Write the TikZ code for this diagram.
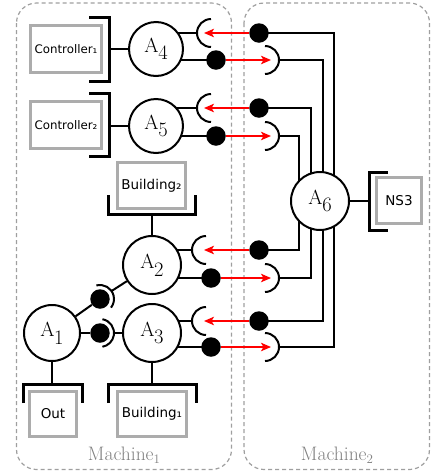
\documentclass[tikz,border=0pt]{standalone}
\usepackage{fontspec}
\newfontfamily\dv{DejaVu Sans}
\usetikzlibrary{arrows.meta,backgrounds,calc}
\newcommand\alab[1]{{\fontsize{20.5}{21}\selectfont A\kern-0.3pt\raisebox{-7.5pt}{#1}}}
\begin{document}
\begin{tikzpicture}[x=1pt,y=-1pt,
  agent/.style={circle,draw,line width=2pt,fill=white,inner sep=0pt},
  ball/.style={circle,fill=black,inner sep=0pt,minimum size=19.5pt},
  gbox/.style={draw=gray!65,line width=3pt,fill=white,inner sep=0pt,font=\dv\fontsize{13.5}{14}\selectfont},
  wire/.style={line width=2pt},
  brk/.style={line width=3pt},
  sig/.style={red,line width=1.3pt,-{Stealth[length=10pt,width=8.5pt,inset=2.5pt]}},
  mbox/.style={draw=gray!75,line width=1.2pt,dash pattern=on 4pt off 3pt,rounded corners=20pt},
  mlabel/.style={text=gray,font=\fontsize{19.5}{20}\selectfont,anchor=base}
]
\useasboundingbox (0,0) rectangle (431,472);

% machines
\begin{scope}[on background layer]
\draw[mbox] (16.5,3) rectangle (231.5,469.5);
\draw[mbox] (244,3) rectangle (429.5,469.5);
\end{scope}
\node[mlabel] (m1) at (124,460) {Machine\raisebox{-3.5pt}{\fontsize{13}{13}\selectfont 1}};
\node[mlabel] (m2) at (337,460) {Machine\raisebox{-3.5pt}{\fontsize{13}{13}\selectfont 2}};

% agents
\node[agent,minimum size=54pt] (A4) at (156,49) {\alab{4}};
\node[agent,minimum size=54pt] (A5) at (156,126) {\alab{5}};
\node[agent,minimum size=58pt] (A2) at (152,265) {\alab{2}};
\node[agent,minimum size=58pt] (A3) at (152,333) {\alab{3}};
\node[agent,minimum size=56pt] (A1) at (52,333) {\alab{1}};
\node[agent,minimum size=58pt] (A6) at (320,201) {\alab{6}};

% external boxes
\node[gbox,minimum width=71pt,minimum height=47pt,font=\dv\fontsize{11.8}{12}\selectfont] (C1) at (66,49) {Controller₁};
\node[gbox,minimum width=71pt,minimum height=47pt,font=\dv\fontsize{11.8}{12}\selectfont] (C2) at (66,125) {Controller₂};
\node[gbox,minimum width=68pt,minimum height=46pt] (B2) at (151.5,185.5) {Building₂};
\node[gbox,minimum width=47pt,minimum height=45pt] (O) at (53,414) {Out};
\node[gbox,minimum width=69pt,minimum height=45pt] (B1) at (152,414) {Building₁};
\node[gbox,minimum width=45pt,minimum height=46pt] (N) at (399,200.5) {NS3};

% brackets
\draw[brk] (89,17) -- (109,17) -- (109,81) -- (89,81);
\draw[brk] (89,93) -- (109,93) -- (109,156) -- (89,156);
\draw[brk] (108,195) -- (108,214) -- (195,214) -- (195,195);
\draw[brk] (23,403) -- (23,384) -- (82,384) -- (82,403);
\draw[brk] (108,403) -- (108,384) -- (196,384) -- (196,403);
\draw[brk] (388,172) -- (369,172) -- (369,230) -- (388,230);
\coordinate (kC1) at (109,49);
\coordinate (kC2) at (109,126);
\coordinate (kB2) at (152,214);
\coordinate (kO) at (52,384);
\coordinate (kB1) at (152,384);
\coordinate (kN) at (369,201);
\draw[wire] (kC1) -- (A4);
\draw[wire] (kC2) -- (A5);
\draw[wire] (kB2) -- (A2);
\draw[wire] (kO) -- (A1);
\draw[wire] (kB1) -- (A3);
\draw[wire] (A6) -- (kN);

% bus columns
\coordinate (xA) at (299,0);
\coordinate (xB) at (311,0);
\coordinate (xC) at (323,0);
\coordinate (xD) at (334,0);

% links between machines
\foreach \n/\c/\u/\l/\sx/\lx/\bu/\bl in {4/A4/33/60/211/216/xD/xC, 5/A5/108/136/211/216/xB/xA, 2/A2/250/278/206/211/xA/xB, 3/A3/321/347/206/211/xC/xD}{
  \coordinate (s\n) at (\sx,\u);
  \coordinate (sl\n) at (\sx-14,\u);
  \node[ball] (bl\n) at (\lx,\l) {};
  \node[ball] (br\n) at (259,\u) {};
  \coordinate (p\n) at (265,\l);
  \coordinate (pr\n) at (279,\l);
  \coordinate (tl\n) at (204,\u);
  \coordinate (tr\n) at (271,\l);
  \draw[wire] ($(s\n)+(0,-14)$) arc[start angle=-90,end angle=-270,radius=14];
  \draw[wire] ($(p\n)+(0,-14)$) arc[start angle=-90,end angle=90,radius=14];
  \begin{scope}[on background layer]
    \draw[wire] (\c.center |- sl\n) -- (sl\n);
    \draw[wire] (\c.center |- bl\n) -- (bl\n.center);
    \draw[wire] (br\n.center) -| (\bu |- A6.center);
    \draw[wire] (pr\n) -| (\bl |- A6.center);
  \end{scope}
  \draw[sig] (br\n.west) -- (tl\n);
  \draw[sig] (bl\n.east) -- (tr\n);
}

% joints inside machine 1
\node[ball] (j12) at (100,299) {};
\node[ball] (j13) at (100,333) {};
\draw[wire] ($(j12)+(-105:14)$) arc[start angle=-105,end angle=38,radius=14];
\draw[wire] ($(j13)+(-80:14)$) arc[start angle=-80,end angle=80,radius=14];
\coordinate (j12o) at ($(j12)+(-34.6:14)$);
\coordinate (j13o) at ($(j13)+(0:14)$);
\draw[wire] (A1) -- (j12);
\draw[wire] (j12o) -- (A2);
\draw[wire] (A1) -- (j13);
\draw[wire] (j13o) -- (A3);
\end{tikzpicture}
\end{document}
